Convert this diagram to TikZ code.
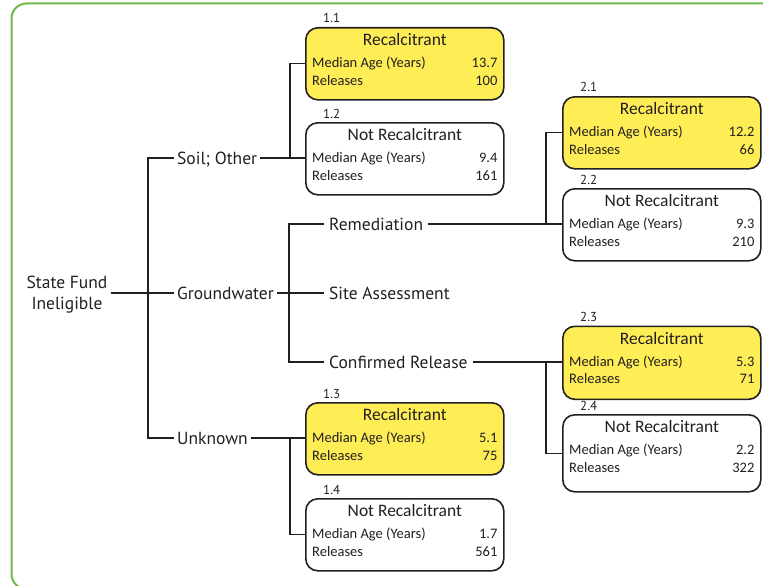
\documentclass[tikz,border=0pt]{standalone}
\usepackage{fontspec}
\setmainfont{Carlito}
\newfontfamily\labfont{PT Sans}
\usetikzlibrary{calc}
\definecolor{framec}{RGB}{110,184,72}
\definecolor{yelc}{RGB}{255,237,85}
\definecolor{boxc}{RGB}{35,31,32}
\definecolor{linec}{RGB}{35,31,32}
\definecolor{txtc}{RGB}{35,31,32}
\newcommand\resbox[9]{%
  \node[#2, minimum width=198pt, minimum height=#5pt, anchor=north west] (#1) at (#3,#4) {};
  \node[ttl] (#1t) at ($(#1.north)+(0,18.6)$) {#7};
  \node[row, anchor=base west] (#1m) at ($(#1.north west)+(7,40.5)$) {Median Age (Years)};
  \node[row, anchor=base east] (#1mv) at ($(#1.north east)+(-7,40.5)$) {#8};
  \node[row, anchor=base west] (#1r) at ($(#1.north west)+(7,58)$) {Releases};
  \node[row, anchor=base east] (#1rv) at ($(#1.north east)+(-7,58)$) {#9};
  \node[idl] (#1i) at ($(#1.north west)+(18,-4)$) {#6};
}
\begin{document}
\begin{tikzpicture}[x=1pt,y=-1pt,
  conn/.style={draw=linec, line width=1.3pt},
  boxbase/.style={draw=boxc, line width=1.6pt, rounded corners=12pt, inner sep=0pt},
  yel/.style={boxbase, fill=yelc},
  wht/.style={boxbase, fill=white},
  ttl/.style={font=\fontsize{17.5}{20}\selectfont, text=txtc, inner sep=0pt, anchor=base},
  row/.style={font=\fontsize{14.5}{16}\selectfont, text=txtc, inner sep=0pt},
  idl/.style={font=\labfont\fontsize{13}{15}\selectfont, text=txtc, inner sep=0pt, anchor=base west},
  lab/.style={font=\labfont\fontsize{17.5}{21}\selectfont, text=txtc, inner xsep=3pt, inner ysep=0pt, text height=13pt, text depth=1pt},
  labb/.style={lab, inner xsep=5pt},
  sfilab/.style={font=\labfont\fontsize{17.5}{21}\selectfont, text=txtc, inner xsep=3pt, inner ysep=0pt, align=center},
]
\useasboundingbox (0,0) rectangle (763,586);
\begin{scope}
  \clip (0,0) rectangle (763,586);
  \draw[framec, line width=2pt, rounded corners=15pt] (11.5,3.5) rectangle (790,589);
\end{scope}

% result boxes
\resbox{b11}{yel}{305}{27}{72}{1.1}{Recalcitrant}{13.7}{100}
\resbox{b12}{wht}{305}{122}{72}{1.2}{Not Recalcitrant}{9.4}{161}
\resbox{b13}{yel}{305}{402}{72}{1.3}{Recalcitrant}{5.1}{75}
\resbox{b14}{wht}{305}{498}{72}{1.4}{Not Recalcitrant}{1.7}{561}
\resbox{b21}{yel}{562}{96}{72}{2.1}{Recalcitrant}{12.2}{66}
\resbox{b22}{wht}{562}{188}{72}{2.2}{Not Recalcitrant}{9.3}{210}
\resbox{b23}{yel}{562}{325.5}{73}{2.3}{Recalcitrant}{5.3}{71}
\resbox{b24}{wht}{562}{414}{77}{2.4}{Not Recalcitrant}{2.2}{322}

% labels
\node[sfilab] (sfi) at (67,295) {State Fund\\Ineligible};
\node[lab, anchor=west] (soil) at (174,158) {Soil; Other};
\node[lab, anchor=west] (gw) at (174,293) {Groundwater};
\node[lab, anchor=west] (unk) at (174,438) {Unknown};
\node[labb, anchor=west] (rem) at (324,224) {Remediation};
\node[labb, anchor=west] (sa) at (324,293) {Site Assessment};
\node[labb, anchor=west] (cr) at (324,362) {Confirmed Release};

% junction coordinates
\coordinate (j0) at (148,293);
\coordinate (j1) at (290,158);
\coordinate (j2) at (289,293);
\coordinate (j3) at (546,224);
\coordinate (j4) at (546,362);
\coordinate (j5) at (290,438);

% connectors
\draw[conn] (sfi.east |- gw.west) -- (gw.west);
\draw[conn] (soil.west) -| (j0) |- (unk.west);
\draw[conn] (soil.east) -- (soil.east -| b12.west);
\draw[conn] (b11.west) -| (j1);
\draw[conn] (gw.east) -- (sa.west);
\draw[conn] (rem.west) -| (j2) |- (cr.west);
\draw[conn] (rem.east) -- (rem.east -| b22.west);
\draw[conn] (b21.west) -| (j3);
\draw[conn] (cr.east) -- (cr.east -| b23.west);
\draw[conn] (j4) |- (b24.west);
\draw[conn] (unk.east) -- (unk.east -| b13.west);
\draw[conn] (j5) |- (b14.west);
\end{tikzpicture}
\end{document}
